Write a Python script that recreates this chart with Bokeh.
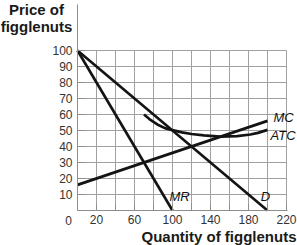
from bokeh.plotting import figure
from bokeh.models import FixedTicker, Label, Range1d
from bokeh.embed import file_html
from bokeh.resources import INLINE

# ---- data ----
q_demand = [0, 200]
p_demand = [100, 0]
q_mr = [0, 100]
p_mr = [100, 0]
q_mc = [0, 200]
p_mc = [16, 56]
q_atc = [70, 76, 84, 92, 100, 110, 120, 133, 150, 168, 182, 190, 200]
p_atc = [60, 57, 53.8, 51.5, 50.2, 48.8, 47.8, 46.9, 46.2, 46.5, 47.5, 48.5, 50.4]

x_ticks = [0, 20, 40, 60, 80, 100, 120, 140, 160, 180, 200, 220]
x_tick_labels = {0: "", 20: "20", 40: "", 60: "60", 80: "", 100: "100", 120: "",
                 140: "140", 160: "", 180: "180", 200: "", 220: "220"}
y_ticks = [10, 20, 30, 40, 50, 60, 70, 80, 90, 100]
x_max = 220
y_max = 100

FONT = "Liberation Sans"
AXIS_COL = "#8e8e8e"
GRID_COL = "#a0a0a0"
LINE_COL = "#141414"

# frame covers the whole canvas; axes are pinned at 0
p = figure(width=297, height=245, output_backend="svg", toolbar_location=None,
           x_range=Range1d(-81.05, 231.58), y_range=Range1d(-21.875, 131.25),
           min_border=0)
p.outline_line_color = None
p.background_fill_color = "white"
p.border_fill_color = "white"
p.xgrid.visible = False
p.ygrid.visible = False

# grid (drawn from the tick values)
gx = x_ticks[1:]
p.multi_line(xs=[[v, v] for v in gx], ys=[[0, y_max] for _ in gx],
             line_color=GRID_COL, line_width=1)
p.multi_line(xs=[[0, x_max] for _ in y_ticks], ys=[[v, v] for v in y_ticks],
             line_color=GRID_COL, line_width=1)

# axes
for ax in (p.xaxis, p.yaxis):
    ax.fixed_location = 0
    ax.axis_line_color = AXIS_COL
    ax.major_tick_line_color = AXIS_COL
    ax.minor_tick_line_color = None
    ax.major_tick_out = 0
    ax.major_label_text_font = FONT
    ax.major_label_text_font_size = "12px"
    ax.major_label_text_color = "#333333"

p.xaxis.bounds = (0, 221)
p.xaxis.ticker = FixedTicker(ticks=x_ticks)
p.xaxis.major_label_overrides = x_tick_labels
p.xaxis.major_tick_in = 7
p.xaxis.major_label_standoff = 4

p.yaxis.bounds = (0, 129)
p.yaxis.ticker = FixedTicker(ticks=y_ticks)
p.yaxis.major_tick_in = 8
p.yaxis.major_label_standoff = 5

# curves
lw = 2.7
p.line(q_demand, p_demand, line_color=LINE_COL, line_width=lw)
p.line(q_mr, p_mr, line_color=LINE_COL, line_width=lw)
p.line(q_mc, p_mc, line_color=LINE_COL, line_width=lw)
p.line(q_atc, p_atc, line_color=LINE_COL, line_width=lw, line_join="round")

# curve labels
def curve_label(text, x, y, dx, dy, align="left"):
    p.add_layout(Label(x=x, y=y, x_offset=dx, y_offset=dy, text=text, text_font=FONT,
                       text_font_size="13px", text_font_style="italic", text_color="#111111",
                       text_align=align, text_baseline="middle"))

curve_label("MC", q_mc[-1], p_mc[-1], 6, 3)
curve_label("ATC", q_atc[-1], p_atc[-1], 3, -6)
curve_label("MR", q_mr[-1], p_mr[-1], -3, 14)
curve_label("D", q_demand[-1], p_demand[-1], -2, 14, "center")

# origin label
p.add_layout(Label(x=0, y=0, x_offset=-9, y_offset=-10, text="0", text_font=FONT,
                   text_font_size="12px", text_color="#333333", text_align="center",
                   text_baseline="middle"))

# axis titles
def title_label(text, x, y, dx, dy, align):
    p.add_layout(Label(x=x, y=y, x_offset=dx, y_offset=dy, text=text, text_font=FONT,
                       text_font_size="15px", text_font_style="bold", text_color="#1a1a1a",
                       text_align=align, text_baseline="middle"))

title_label("Quantity of figglenuts", x_max, 0, 10, -26, "right")
title_label("Price of", 0, 0, -41, 201, "center")
title_label("figglenuts", 0, 0, -41, 184, "center")

open("out.html", "w").write(file_html(p, INLINE))
